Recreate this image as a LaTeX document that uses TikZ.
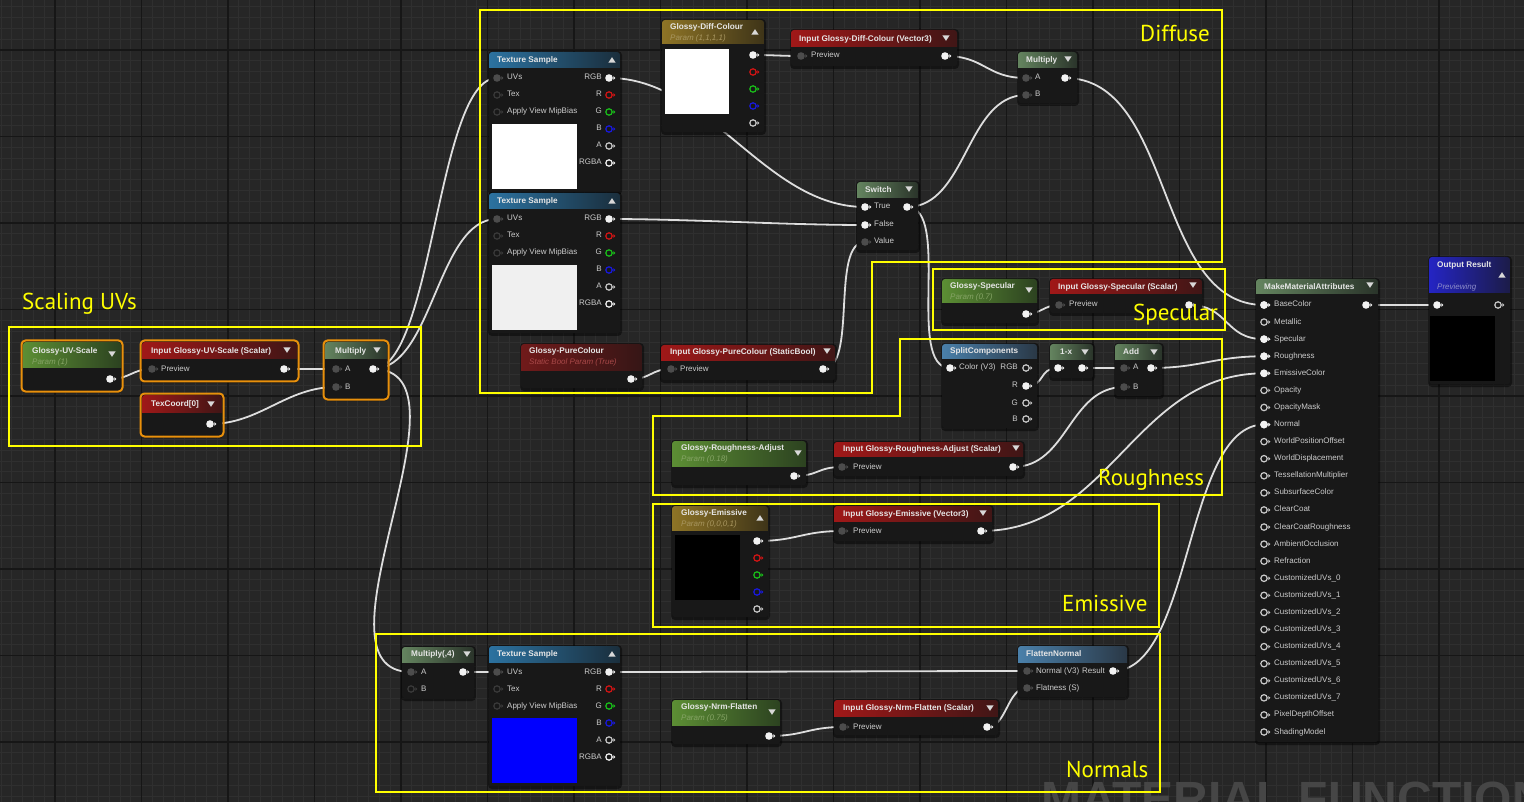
\documentclass[tikz,border=0pt]{standalone}
\usepackage{fontspec}
\setmainfont{Liberation Sans}
\newfontfamily\lblfont{PT Sans}
\definecolor{bgc}{HTML}{262626}
\definecolor{minorc}{HTML}{2F2F2F}
\definecolor{majorc}{HTML}{161616}
\definecolor{nodebg}{HTML}{181818}
\definecolor{wirec}{HTML}{DDDDDD}
\definecolor{selc}{HTML}{E8900C}
\definecolor{yel}{HTML}{FFFF00}
\definecolor{ttlc}{HTML}{E6E6E6}
\definecolor{lblc}{HTML}{CCCCCC}
\definecolor{tric}{HTML}{D8D8D8}
\definecolor{pinwc}{HTML}{F2F2F2}
\definecolor{pingc}{HTML}{4C4C4C}
\definecolor{pindc}{HTML}{3A3A3A}
\definecolor{pinlc}{HTML}{C8C8C8}
\definecolor{pcR}{HTML}{D41414}
\definecolor{pcG}{HTML}{18C018}
\definecolor{pcB}{HTML}{1818E0}
\definecolor{pgL}{HTML}{5C8E34}\definecolor{pgR}{HTML}{2C4220}
\definecolor{mgL}{HTML}{64845F}\definecolor{mgR}{HTML}{2A342A}
\definecolor{irL}{HTML}{A01818}\definecolor{irR}{HTML}{401616}
\definecolor{tbL}{HTML}{2C72A0}\definecolor{tbR}{HTML}{1A2E3C}
\definecolor{fbL}{HTML}{4A80AA}\definecolor{fbR}{HTML}{2A3846}
\definecolor{gdL}{HTML}{8E7426}\definecolor{gdR}{HTML}{3E3418}
\definecolor{brL}{HTML}{701A1A}\definecolor{brR}{HTML}{361616}
\definecolor{obL}{HTML}{2424C4}\definecolor{obR}{HTML}{1C1C48}
\definecolor{subg}{HTML}{86A466}
\definecolor{subgd}{HTML}{A89660}
\definecolor{subr}{HTML}{A84848}
\definecolor{subb}{HTML}{8C8CC8}
\definecolor{wmc}{HTML}{464646}
\definecolor{pureblue}{HTML}{0000FF}
\definecolor{texwhite}{HTML}{F0F0F0}
\pgfdeclarelayer{gridl}\pgfdeclarelayer{wirel}
\pgfsetlayers{gridl,wirel,main}
\tikzset{
 nbody/.style={fill=nodebg,rounded corners=3pt,inner sep=0,anchor=north west,draw=none},
 wire/.style={draw=wirec,line width=1.8pt},
 ybox/.style={draw=yel,line width=1.3pt},
 ylbl/.style={text=yel,font=\lblfont\fontsize{23}{25}\selectfont,inner sep=0,anchor=base west},
 ttlst/.style={anchor=west,inner sep=0,text=ttlc,font=\bfseries\fontsize{8.2}{9}\selectfont,text height=5.8pt,text depth=1.6pt},
 subst/.style={anchor=west,inner sep=0,font=\itshape\fontsize{8}{9}\selectfont,text height=5.8pt,text depth=1.6pt},
 plbl/.style={inner sep=0,text=lblc,font=\fontsize{8}{9}\selectfont,text height=5.6pt,text depth=1.6pt},
 pinw/.style={circle,fill=pinwc,minimum size=7.6pt,inner sep=0},
 ping/.style={circle,fill=pingc,minimum size=7.6pt,inner sep=0},
 pino/.style={circle,draw=#1,fill=nodebg,line width=1.2pt,minimum size=6.4pt,inner sep=0},
}
\newcounter{lc}
\newcommand\uenode[8]{%
  \fill[black,opacity=0.45,rounded corners=4pt] (#2-1,#3-1) rectangle (#2+#4+2,#3+#5+3);
  \node[nbody,minimum width=#4pt,minimum height=#5pt] (#1) at (#2,#3) {};
  \begin{scope}
    \clip[rounded corners=3pt] (#2,#3) rectangle (#2+#4,#3+#5);
    \shade[left color=#7,right color=#8] (#2,#3) rectangle (#2+#4,#3+#6);
  \end{scope}}
\newcommand\selbox[4]{\draw[selc,line width=2pt,rounded corners=4pt] (#1-1.5,#2-1.5) rectangle (#1+#3+1.5,#2+#4+1.5);}
\newcommand\ttl[3]{\stepcounter{lc}\node[ttlst] (l-\thelc) at (#1,#2) {#3};}
\newcommand\subt[4]{\stepcounter{lc}\node[subst,text=#4] (l-\thelc) at (#1,#2) {#3};}
\newcommand\plL[3]{\stepcounter{lc}\node[plbl,anchor=west] (l-\thelc) at (#1,#2) {#3};}
\newcommand\plR[3]{\stepcounter{lc}\node[plbl,anchor=east] (l-\thelc) at (#1,#2) {#3};}
\newcommand\tridn[2]{\fill[tric] (#1-3.6,#2-2.6) -- (#1+3.6,#2-2.6) -- (#1,#2+2.8) -- cycle;}
\newcommand\triup[2]{\fill[tric] (#1-3.6,#2+2.6) -- (#1+3.6,#2+2.6) -- (#1,#2-2.8) -- cycle;}
\newcommand\pin[5]{\node[#4] (#1) at (#2,#3) {};\fill[#5] (#2+4.4,#3-1.8) -- (#2+6.4,#3) -- (#2+4.4,#3+1.8) -- cycle;}
\newcommand\wire[3]{\draw[wire] (#1.center) .. controls +(#3,0) and +(-#3,0) .. (#2.center);}
\newcommand\texsample[4]{%
  \uenode{#1}{#2}{#3}{131}{140}{16}{tbL}{tbR}
  \ttl{#2+8}{#3+8}{Texture Sample}
  \triup{#2+123}{#3+8}
  \pin{#1-uv}{#2+8}{#3+26}{ping}{pingc}\plL{#2+18}{#3+26}{UVs}
  \pin{#1-tex}{#2+8}{#3+43}{pino=pindc}{pindc}\plL{#2+18}{#3+43}{Tex}
  \pin{#1-mip}{#2+8}{#3+60}{pino=pindc}{pindc}\plL{#2+18}{#3+60}{Apply View MipBias}
  \pin{#1-rgb}{#2+120}{#3+26}{pinw}{pinwc}\plR{#2+113}{#3+26}{RGB}
  \pin{#1-r}{#2+120}{#3+43}{pino=pcR}{pcR}\plR{#2+113}{#3+43}{R}
  \pin{#1-g}{#2+120}{#3+60}{pino=pcG}{pcG}\plR{#2+113}{#3+60}{G}
  \pin{#1-b}{#2+120}{#3+77}{pino=pcB}{pcB}\plR{#2+113}{#3+77}{B}
  \pin{#1-a}{#2+120}{#3+94}{pino=pinlc}{pinlc}\plR{#2+113}{#3+94}{A}
  \pin{#1-rgba}{#2+120}{#3+111}{pino=pinwc}{pinwc}\plR{#2+113}{#3+111}{RGBA}
  \fill[#4] (#2+3,#3+72) rectangle (#2+88,#3+137);}
\begin{document}
\begin{tikzpicture}[x=1pt,y=-1pt]
\useasboundingbox (0,0) rectangle (1524,802);
\begin{pgfonlayer}{gridl}
\fill[bgc] (0,0) rectangle (1524,802);
\foreach \i in {0,...,141} \draw[minorc,line width=0.7pt] (0.94+\i*10.8125,0) -- ++(0,802);
\foreach \i in {0,...,74} \draw[minorc,line width=0.7pt] (0,6.75+\i*10.8125) -- ++(1524,0);
\foreach \i in {0,...,18} \draw[majorc,line width=1.2pt] (-31.5+\i*86.5,0) -- ++(0,802);
\foreach \i in {0,...,8} \draw[majorc,line width=1.2pt] (0,50+\i*86.5) -- ++(1524,0);
\node[anchor=base west,inner sep=0,text=wmc,font=\bfseries\fontsize{48}{48}\selectfont] (wm) at (1041,815) {MATERIAL FUNCTION};
\end{pgfonlayer}

% ---------- Scaling UVs ----------
\uenode{uvs}{23}{342}{98}{48}{26}{pgL}{pgR}
\ttl{32}{351}{Glossy-UV-Scale}\subt{32}{362}{Param (1)}{subg}
\tridn{112}{354}
\pin{uvsO}{110}{379}{pinw}{pinwc}
\selbox{23}{342}{98}{48}

\uenode{inuv}{142}{342}{155}{38}{17}{irL}{irR}
\ttl{151}{351}{Input Glossy-UV-Scale (Scalar)}\tridn{287}{350}
\pin{inuvI}{152}{369}{ping}{pingc}\plL{161}{369}{Preview}
\pin{inuvO}{284}{369}{pinw}{pinwc}
\selbox{142}{342}{155}{38}

\uenode{tc}{142}{395}{80}{40}{17}{irL}{irR}
\ttl{151}{404}{TexCoord[0]}\tridn{211}{404}
\pin{tcO}{210}{424}{pinw}{pinwc}
\selbox{142}{395}{80}{40}

\uenode{mulA}{325}{342}{62}{56}{17}{mgL}{mgR}
\ttl{335}{351}{Multiply}\tridn{377}{350}
\pin{mulAa}{336}{369}{ping}{pingc}\plL{345}{369}{A}
\pin{mulAb}{336}{387}{ping}{pingc}\plL{345}{387}{B}
\pin{mulAo}{373}{369}{pinw}{pinwc}
\selbox{325}{342}{62}{56}

% ---------- Diffuse ----------
\texsample{ts1}{489}{52}{white}
\texsample{ts2}{489}{193}{texwhite}

\uenode{dc}{662}{20}{102}{112}{24}{gdL}{gdR}
\ttl{670}{27}{Glossy-Diff-Colour}\subt{670}{38}{Param (1,1,1,1)}{subgd}
\triup{755}{32}
\fill[white] (665,49) rectangle (729,114);
\pin{dcO}{753}{55}{pinw}{pinwc}
\pin{dcR}{753}{72}{pino=pcR}{pcR}
\pin{dcG}{753}{89}{pino=pcG}{pcG}
\pin{dcB}{753}{106}{pino=pcB}{pcB}
\pin{dcA}{753}{123}{pino=pinlc}{pinlc}

\uenode{idc}{791}{30}{166}{36}{17}{irL}{irR}
\ttl{799}{39}{Input Glossy-Diff-Colour (Vector3)}\tridn{946}{38}
\pin{idcI}{801}{56}{ping}{pingc}\plL{811}{56}{Preview}
\pin{idcO}{945}{56}{pinw}{pinwc}

\uenode{mulD}{1018}{52}{59}{51}{16}{mgL}{mgR}
\ttl{1026}{60}{Multiply}\tridn{1068}{59}
\pin{mulDa}{1026}{78}{ping}{pingc}\plL{1035}{78}{A}
\pin{mulDb}{1026}{95}{ping}{pingc}\plL{1035}{95}{B}
\pin{mulDo}{1065}{78}{pinw}{pinwc}

\uenode{sw}{857}{182}{61}{68}{16}{mgL}{mgR}
\ttl{865}{190}{Switch}\tridn{909}{189}
\pin{swT}{865}{207}{pinw}{pinwc}\plL{874}{207}{True}
\pin{swTo}{907}{207}{pinw}{pinwc}
\pin{swF}{865}{225}{pinw}{pinwc}\plL{874}{225}{False}
\pin{swV}{865}{242}{ping}{pingc}\plL{874}{242}{Value}

\uenode{pc}{521}{344}{121}{44}{27}{brL}{brR}
\ttl{529}{351}{Glossy-PureColour}\subt{529}{362}{Static Bool Param (True)}{subr}
\pin{pcO}{631}{379}{pinw}{pinwc}

\uenode{ipc}{661}{345}{174}{35}{16}{irL}{irR}
\ttl{670}{352}{Input Glossy-PureColour (StaticBool)}\tridn{827}{351}
\pin{ipcI}{671}{369}{ping}{pingc}\plL{680}{369}{Preview}
\pin{ipcO}{823}{369}{pinw}{pinwc}

% ---------- Specular ----------
\uenode{sp}{942}{279}{95}{44}{24}{pgL}{pgR}
\ttl{950}{286}{Glossy-Specular}\subt{950}{297}{Param (0.7)}{subg}\tridn{1029}{290}
\pin{spO}{1026}{314}{pinw}{pinwc}

\uenode{isp}{1050}{279}{152}{34}{15}{irL}{irR}
\ttl{1058}{287}{Input Glossy-Specular (Scalar)}\tridn{1193}{285}
\pin{ispI}{1059}{305}{ping}{pingc}\plL{1069}{305}{Preview}
\pin{ispO}{1189}{305}{pinw}{pinwc}

% ---------- Roughness ----------
\uenode{spl}{942}{344}{95}{84}{15}{fbL}{fbR}
\ttl{950}{351}{SplitComponents}
\pin{splI}{950}{368}{pinw}{pinwc}\plL{959}{368}{Color (V3)}
\pin{splRGB}{1026}{368}{pino=pinlc}{pinlc}\plR{1018}{368}{RGB}
\pin{splR}{1026}{386}{pinw}{pinwc}\plR{1018}{386}{R}
\pin{splG}{1026}{403}{pino=pinlc}{pinlc}\plR{1018}{403}{G}
\pin{splB}{1026}{419}{pino=pinlc}{pinlc}\plR{1018}{419}{B}

\uenode{omx}{1050}{344}{43}{34}{16}{mgL}{mgR}
\ttl{1060}{352}{1-x}\tridn{1085}{352}
\pin{omxI}{1058}{368}{pinw}{pinwc}
\pin{omxO}{1082}{368}{pinw}{pinwc}

\uenode{ad}{1115}{344}{47}{52}{16}{mgL}{mgR}
\ttl{1123}{352}{Add}\tridn{1154}{352}
\pin{adA}{1124}{368}{ping}{pingc}\plL{1133}{368}{A}
\pin{adB}{1124}{387}{ping}{pingc}\plL{1133}{387}{B}
\pin{adO}{1151}{368}{pinw}{pinwc}

\uenode{ra}{672}{441}{134}{44}{25}{pgL}{pgR}
\ttl{681}{448}{Glossy-Roughness-Adjust}\subt{681}{459}{Param (0.18)}{subg}\tridn{798}{453}
\pin{raO}{794}{476}{pinw}{pinwc}

\uenode{ira}{834}{442}{189}{34}{14}{irL}{irR}
\ttl{843}{449}{Input Glossy-Roughness-Adjust (Scalar)}\tridn{1016}{448}
\pin{iraI}{842}{467}{ping}{pingc}\plL{853}{467}{Preview}
\pin{iraO}{1013}{467}{pinw}{pinwc}

% ---------- Emissive ----------
\uenode{em}{672}{506}{96}{111}{24}{gdL}{gdR}
\ttl{681}{513}{Glossy-Emissive}\subt{681}{524}{Param (0,0,0,1)}{subgd}\triup{760}{518}
\fill[black] (675,535) rectangle (740,600);
\pin{emO}{757}{541}{pinw}{pinwc}
\pin{emR}{757}{558}{pino=pcR}{pcR}
\pin{emG}{757}{575}{pino=pcG}{pcG}
\pin{emB}{757}{592}{pino=pcB}{pcB}
\pin{emA}{757}{609}{pino=pinlc}{pinlc}

\uenode{iem}{834}{506}{158}{35}{15}{irL}{irR}
\ttl{843}{514}{Input Glossy-Emissive (Vector3)}\tridn{983}{513}
\pin{iemI}{842}{531}{ping}{pingc}\plL{853}{531}{Preview}
\pin{iemO}{981}{531}{pinw}{pinwc}

% ---------- Normals ----------
\uenode{m4}{402}{647}{72}{51}{15}{mgL}{mgR}
\ttl{411}{654}{Multiply(,4)}\tridn{467}{654}
\pin{m4A}{411}{672}{ping}{pingc}\plL{421}{672}{A}
\pin{m4B}{411}{689}{pino=pindc}{pindc}\plL{421}{689}{B}
\pin{m4O}{463}{672}{pinw}{pinwc}

\texsample{ts3}{489}{646}{pureblue}

\uenode{nf}{672}{700}{108}{44}{25}{pgL}{pgR}
\ttl{681}{707}{Glossy-Nrm-Flatten}\subt{681}{718}{Param (0.75)}{subg}\tridn{772}{712}
\pin{nfO}{769}{736}{pinw}{pinwc}

\uenode{inf}{834}{700}{164}{35}{16}{irL}{irR}
\ttl{843}{708}{Input Glossy-Nrm-Flatten (Scalar)}\tridn{990}{708}
\pin{infI}{843}{727}{ping}{pingc}\plL{853}{727}{Preview}
\pin{infO}{987}{727}{pinw}{pinwc}

\uenode{fn}{1018}{646}{109}{51}{16}{fbL}{fbR}
\ttl{1026}{654}{FlattenNormal}
\pin{fnN}{1027}{671}{ping}{pingc}\plL{1036}{671}{Normal (V3)}
\pin{fnF}{1027}{688}{ping}{pingc}\plL{1036}{688}{Flatness (S)}
\pin{fnO}{1113}{671}{pinw}{pinwc}\plR{1105}{671}{Result}

% ---------- Make Material Attributes ----------
\uenode{mma}{1256}{279}{122}{463}{15}{mgL}{mgR}
\ttl{1264}{287}{MakeMaterialAttributes}\tridn{1370}{285}
\foreach \lab [count=\i from 0] in {BaseColor,Metallic,Specular,Roughness,EmissiveColor,Opacity,OpacityMask,Normal,WorldPositionOffset,WorldDisplacement,TessellationMultiplier,SubsurfaceColor,ClearCoat,ClearCoatRoughness,AmbientOcclusion,Refraction,CustomizedUVs\_0,CustomizedUVs\_1,CustomizedUVs\_2,CustomizedUVs\_3,CustomizedUVs\_4,CustomizedUVs\_5,CustomizedUVs\_6,CustomizedUVs\_7,PixelDepthOffset,ShadingModel}{
  \pin{mma\i}{1264}{305+17.08*\i}{pino=pinlc}{pinlc}
  \plL{1274}{305+17.08*\i}{\lab}
}
\foreach \i in {0,2,3,4,7}{\pin{mma\i}{1264}{305+17.08*\i}{pinw}{pinwc}}
\pin{mmaO}{1366}{305}{pinw}{pinwc}

\uenode{out}{1429}{257}{81}{127}{36}{obL}{obR}
\ttl{1437}{265}{Output Result}\subt{1437}{287}{Previewing}{subb}\triup{1502}{275}
\pin{outI}{1437}{305}{pinw}{pinwc}
\pin{outO}{1498}{305}{pino=pinlc}{pinlc}
\fill[black] (1430,316) rectangle (1495,381);

% ---------- wires ----------
\begin{pgfonlayer}{wirel}
\wire{uvsO}{inuvI}{20}
\wire{inuvO}{mulAa}{20}
\wire{tcO}{mulAb}{50}
\wire{mulAo}{ts1-uv}{60}
\wire{mulAo}{ts2-uv}{60}
\wire{mulAo}{m4A}{110}
\wire{ts1-rgb}{swT}{100}
\wire{ts2-rgb}{swF}{80}
\wire{dcO}{idcI}{20}
\wire{idcO}{mulDa}{40}
\wire{swTo}{mulDb}{60}
\wire{swTo}{splI}{45}
\wire{mulDo}{mma0}{110}
\wire{pcO}{ipcI}{20}
\wire{ipcO}{swV}{35}
\wire{spO}{ispI}{15}
\wire{ispO}{mma2}{40}
\wire{splR}{omxI}{20}
\wire{omxO}{adA}{20}
\wire{iraO}{adB}{55}
\wire{adO}{mma3}{50}
\wire{raO}{iraI}{25}
\wire{emO}{iemI}{40}
\wire{iemO}{mma4}{130}
\wire{m4O}{ts3-uv}{15}
\wire{ts3-rgb}{fnN}{100}
\wire{nfO}{infI}{35}
\wire{infO}{fnF}{20}
\wire{fnO}{mma7}{80}
\wire{mmaO}{outI}{30}
\end{pgfonlayer}

% ---------- annotation boxes ----------
\draw[ybox] (9,327) rectangle (421,446);
\draw[ybox] (480,10) -- (1222,10) -- (1222,262) -- (872,262) -- (872,393) -- (480,393) -- cycle;
\draw[ybox] (933,269) rectangle (1225,330);
\draw[ybox] (900,339) -- (1222,339) -- (1222,495) -- (653,495) -- (653,416) -- (900,416) -- cycle;
\draw[ybox] (653,504) rectangle (1159,627);
\draw[ybox] (376,634) rectangle (1160,792);
\node[ylbl] (lblUV) at (22,310) {Scaling UVs};
\node[ylbl] (lblD) at (1140,42) {Diffuse};
\node[ylbl] (lblS) at (1133,321) {Specular};
\node[ylbl] (lblR) at (1098,485) {Roughness};
\node[ylbl] (lblE) at (1062,611) {Emissive};
\node[ylbl] (lblN) at (1066,777) {Normals};
\end{tikzpicture}
\end{document}
